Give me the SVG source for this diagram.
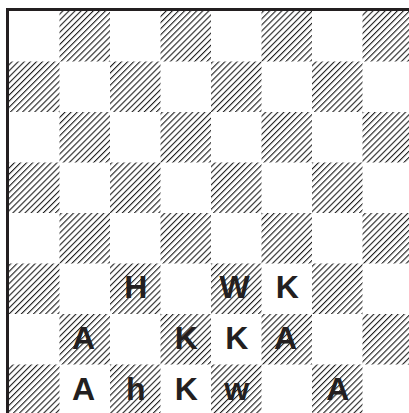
<svg xmlns="http://www.w3.org/2000/svg" width="409" height="413" viewBox="0 0 409 413">
<defs>
<pattern id="hatch" patternUnits="userSpaceOnUse" width="4.3" height="4.3" patternTransform="rotate(45)">
<rect x="0" y="0" width="1.1" height="4.3" fill="#1e1e1e"/>
</pattern>
<style>
.h{fill:url(#hatch)}
.p{font-family:"Liberation Sans",Arial,sans-serif;font-weight:bold;font-size:32px;fill:#231f20;text-anchor:middle}
</style>
</defs>
<rect width="409" height="413" fill="#fff"/>
<g id="squares">
<rect class="h" x="59.5" y="11" width="50.5" height="50.5"/>
<rect class="h" x="160.5" y="11" width="50.5" height="50.5"/>
<rect class="h" x="261.5" y="11" width="50.5" height="50.5"/>
<rect class="h" x="362.5" y="11" width="50.5" height="50.5"/>
<rect class="h" x="9" y="61.5" width="50.5" height="50.5"/>
<rect class="h" x="110" y="61.5" width="50.5" height="50.5"/>
<rect class="h" x="211" y="61.5" width="50.5" height="50.5"/>
<rect class="h" x="312" y="61.5" width="50.5" height="50.5"/>
<rect class="h" x="59.5" y="112" width="50.5" height="50.5"/>
<rect class="h" x="160.5" y="112" width="50.5" height="50.5"/>
<rect class="h" x="261.5" y="112" width="50.5" height="50.5"/>
<rect class="h" x="362.5" y="112" width="50.5" height="50.5"/>
<rect class="h" x="9" y="162.5" width="50.5" height="50.5"/>
<rect class="h" x="110" y="162.5" width="50.5" height="50.5"/>
<rect class="h" x="211" y="162.5" width="50.5" height="50.5"/>
<rect class="h" x="312" y="162.5" width="50.5" height="50.5"/>
<rect class="h" x="59.5" y="213" width="50.5" height="50.5"/>
<rect class="h" x="160.5" y="213" width="50.5" height="50.5"/>
<rect class="h" x="261.5" y="213" width="50.5" height="50.5"/>
<rect class="h" x="362.5" y="213" width="50.5" height="50.5"/>
<rect class="h" x="9" y="263.5" width="50.5" height="50.5"/>
<rect class="h" x="110" y="263.5" width="50.5" height="50.5"/>
<rect class="h" x="211" y="263.5" width="50.5" height="50.5"/>
<rect class="h" x="312" y="263.5" width="50.5" height="50.5"/>
<rect class="h" x="59.5" y="314" width="50.5" height="50.5"/>
<rect class="h" x="160.5" y="314" width="50.5" height="50.5"/>
<rect class="h" x="261.5" y="314" width="50.5" height="50.5"/>
<rect class="h" x="362.5" y="314" width="50.5" height="50.5"/>
<rect class="h" x="9" y="364.5" width="50.5" height="50.5"/>
<rect class="h" x="110" y="364.5" width="50.5" height="50.5"/>
<rect class="h" x="211" y="364.5" width="50.5" height="50.5"/>
<rect class="h" x="312" y="364.5" width="50.5" height="50.5"/>
</g>
<g id="border" stroke="#231f20" stroke-width="3" fill="none">
<path d="M7.5,413 V9.5 H409"/>
</g>
<g id="pieces">
<g id="p-c2-r5"><text class="p" x="135.75" y="298">H</text></g>
<g id="p-c4-r5"><text class="p" x="234.5" y="298">W</text></g>
<g id="p-c5-r5"><text class="p" x="287.25" y="298">K</text></g>
<g id="p-c1-r6"><text class="p" x="83.5" y="348.5">A</text></g>
<g id="p-c3-r6"><text class="p" x="186.25" y="348.5">K</text></g>
<g id="p-c4-r6"><text class="p" x="236.75" y="348.5">K</text></g>
<g id="p-c5-r6"><text class="p" x="285.5" y="348.5">A</text></g>
<g id="p-c1-r7"><text class="p" x="83.5" y="399.5">A</text></g>
<g id="p-c2-r7"><text class="p" x="135.75" y="399.5">h</text></g>
<g id="p-c3-r7"><text class="p" x="186.25" y="399.5">K</text></g>
<g id="p-c4-r7"><text class="p" x="236.75" y="399.5">w</text></g>
<g id="p-c6-r7"><text class="p" x="337.75" y="399.5">A</text></g>
</g>
</svg>
